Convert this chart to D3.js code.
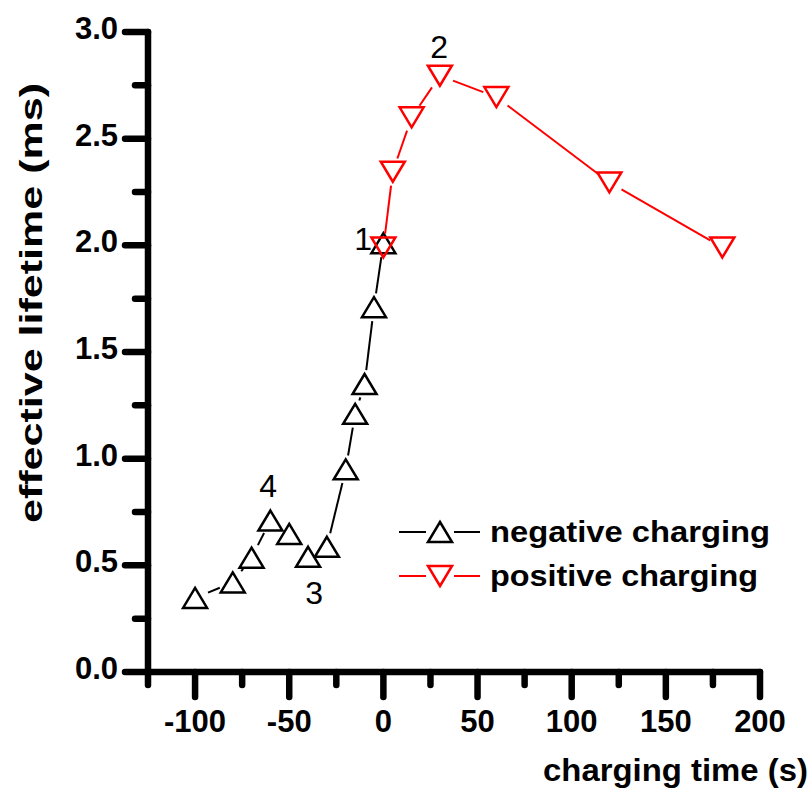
<!DOCTYPE html>
<html>
<head>
<meta charset="utf-8">
<script src="https://cdn.jsdelivr.net/npm/d3@7"></script>
<style>
  body { margin: 0; background: #fff; }
  svg { display: block; font-family: "Liberation Sans", Arial, sans-serif; }
</style>
</head>
<body>
<div id="chart"></div>
<script>
// negative charging (black, up triangles)
var negTime = [-100, -80, -70, -60, -50, -40, -30, -20, -15, -10, -5, 0];
var negLife = [0.347, 0.42, 0.536, 0.71, 0.647, 0.54, 0.587, 0.95, 1.21, 1.35, 1.71, 2.01];

// positive charging (red, down triangles)
var posTime = [0, 5, 15, 30, 60, 120, 180];
var posLife = [1.99, 2.345, 2.6, 2.795, 2.695, 2.295, 1.99];

var xTicks = [-100, -50, 0, 50, 100, 150, 200];
var xMinor = [-125, -75, -25, 25, 75, 125, 175];
var yTicks = [0, 0.5, 1.0, 1.5, 2.0, 2.5, 3.0];
var yMinor = [0.25, 0.75, 1.25, 1.75, 2.25, 2.75];

var noteText = ["1", "2", "3", "4"];
var noteX = [-10.8, 29.6, -36.8, -61.2];
var noteY = [1.98, 2.88, 0.32, 0.82];

var legendNames = ["negative charging", "positive charging"];

var W = 810, H = 790;
var svg = d3.select("#chart").append("svg")
    .attr("width", W)
    .attr("height", H);

var x = d3.scaleLinear().domain([-125, 200]).range([148, 760]);
var y = d3.scaleLinear().domain([0, 3]).range([672, 32]);

// triangle path, up or down, centred on its box
function tri(cx, cy, up) {
    var w = 12, h = 10;
    if (up) return "M" + cx + "," + (cy - h) + "L" + (cx + w) + "," + (cy + h) + "L" + (cx - w) + "," + (cy + h) + "Z";
    return "M" + cx + "," + (cy + h) + "L" + (cx + w) + "," + (cy - h) + "L" + (cx - w) + "," + (cy - h) + "Z";
}

// lines are drawn with a gap around each marker
function drawSeries(xs, ys, color, up) {
    var pts = xs.map(function(d, i) { return [x(d), y(ys[i])]; });
    var gap = 14;
    var g = svg.append("g");
    for (var i = 0; i < pts.length - 1; i++) {
        var a = pts[i], b = pts[i + 1];
        var dx = b[0] - a[0], dy = b[1] - a[1];
        var len = Math.sqrt(dx * dx + dy * dy);
        if (len <= 2 * gap + 2) continue;
        var ux = dx / len, uy = dy / len;
        g.append("line")
            .attr("x1", a[0] + ux * gap).attr("y1", a[1] + uy * gap)
            .attr("x2", b[0] - ux * gap).attr("y2", b[1] - uy * gap)
            .attr("stroke", color)
            .attr("stroke-width", 2);
    }
    g.selectAll("path")
        .data(pts)
        .enter()
        .append("path")
        .attr("d", function(d) { return tri(d[0], d[1], up); })
        .attr("fill", "none")
        .attr("stroke", color)
        .attr("stroke-width", 2.5);
}

drawSeries(negTime, negLife, "#000", true);
drawSeries(posTime, posLife, "#ff0000", false);

// axes
var axisW = 6.5;
var ax = svg.append("g").attr("stroke", "#000").attr("stroke-linecap", "round").attr("stroke-width", axisW);
ax.append("line").attr("x1", x(-125)).attr("x2", x(200)).attr("y1", y(0)).attr("y2", y(0));
ax.append("line").attr("x1", x(-125)).attr("x2", x(-125)).attr("y1", y(0)).attr("y2", y(3));

ax.selectAll(".xmaj").data(xTicks).enter().append("line")
    .attr("x1", function(d) { return x(d); }).attr("x2", function(d) { return x(d); })
    .attr("y1", y(0)).attr("y2", y(0) + 25);
ax.selectAll(".xmin").data(xMinor).enter().append("line")
    .attr("x1", function(d) { return x(d); }).attr("x2", function(d) { return x(d); })
    .attr("y1", y(0)).attr("y2", y(0) + 13);
ax.selectAll(".ymaj").data(yTicks).enter().append("line")
    .attr("x1", x(-125)).attr("x2", x(-125) - 23)
    .attr("y1", function(d) { return y(d); }).attr("y2", function(d) { return y(d); });
ax.selectAll(".ymin").data(yMinor).enter().append("line")
    .attr("x1", x(-125)).attr("x2", x(-125) - 13)
    .attr("y1", function(d) { return y(d); }).attr("y2", function(d) { return y(d); });

svg.append("g").selectAll("text").data(xTicks).enter().append("text")
    .attr("x", function(d) { return x(d); })
    .attr("y", y(0) + 60)
    .attr("text-anchor", "middle")
    .attr("font-size", 31)
    .attr("font-weight", "bold")
    .text(function(d) { return d; });

svg.append("g").selectAll("text").data(yTicks).enter().append("text")
    .attr("x", 118)
    .attr("y", function(d) { return y(d) + 7; })
    .attr("text-anchor", "end")
    .attr("font-size", 31)
    .attr("font-weight", "bold")
    .text(function(d) { return d3.format(".1f")(d); });

// axis titles
svg.append("text")
    .attr("x", 543).attr("y", 781)
    .attr("font-size", 31)
    .attr("font-weight", "bold")
    .attr("textLength", 265)
    .attr("lengthAdjust", "spacingAndGlyphs")
    .text("charging time (s)");

svg.append("text")
    .attr("transform", "translate(42,303) rotate(-90)")
    .attr("x", -220)
    .attr("font-size", 31)
    .attr("font-weight", "bold")
    .attr("textLength", 440)
    .attr("lengthAdjust", "spacingAndGlyphs")
    .text("effective lifetime (ms)");

// point labels
svg.append("g").selectAll("text").data(noteText).enter().append("text")
    .attr("x", function(d, i) { return x(noteX[i]); })
    .attr("y", function(d, i) { return y(noteY[i]); })
    .attr("text-anchor", "middle")
    .attr("font-size", 32)
    .text(function(d) { return d; });

// legend
var legColors = ["#000", "#ff0000"];
var legRows = [532, 576];
legendNames.forEach(function(name, i) {
    var g = svg.append("g");
    var cy = legRows[i];
    g.append("line").attr("x1", 399).attr("x2", 426).attr("y1", cy).attr("y2", cy)
        .attr("stroke", legColors[i]).attr("stroke-width", 2);
    g.append("line").attr("x1", 454).attr("x2", 480).attr("y1", cy).attr("y2", cy)
        .attr("stroke", legColors[i]).attr("stroke-width", 2);
    g.append("path").attr("d", tri(440, cy, i === 0))
        .attr("fill", "none").attr("stroke", legColors[i]).attr("stroke-width", 2.5);
    g.append("text")
        .attr("x", 490).attr("y", cy + 10)
        .attr("font-size", 30)
        .attr("font-weight", "bold")
        .attr("textLength", i === 0 ? 280 : 268)
        .attr("lengthAdjust", "spacingAndGlyphs")
        .text(name);
});
</script>
</body>
</html>
